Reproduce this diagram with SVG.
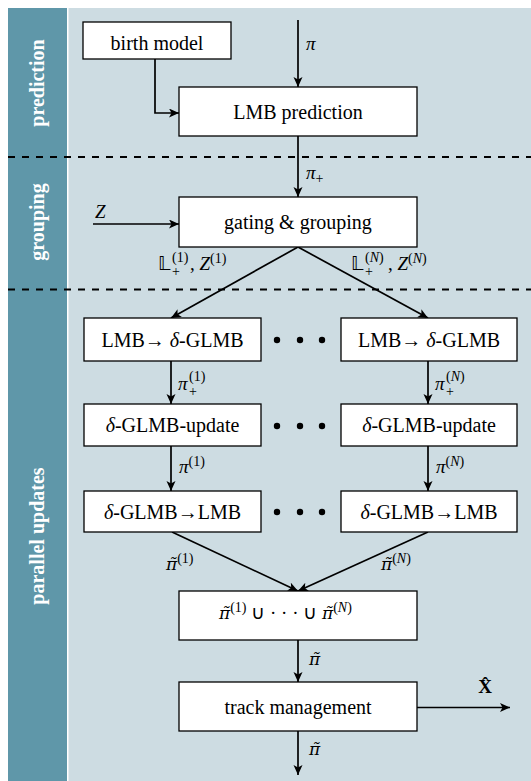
<svg xmlns="http://www.w3.org/2000/svg" width="531" height="781" viewBox="0 0 531 781">
<defs>
<marker id="ar" markerUnits="userSpaceOnUse" markerWidth="12" markerHeight="10" refX="10" refY="4.5" orient="auto">
<path d="M0,0 L10,4.5 L0,9 L2.5,4.5 z" fill="#000"/>
</marker>
</defs>
<rect x="0" y="0" width="531" height="781" fill="#fff"/>
<rect x="8" y="8" width="59" height="773" fill="#5f97a9"/>
<rect x="68.5" y="8" width="462.5" height="773" fill="#cddce2"/>
<g id="section-labels" font-size="20" font-weight="bold" fill="#fff" text-anchor="middle">
<text style="font-family:'Liberation Serif',serif" transform="translate(44,83) rotate(-90)">prediction</text>
<text style="font-family:'Liberation Serif',serif" transform="translate(44,222) rotate(-90)">grouping</text>
<text style="font-family:'Liberation Serif',serif" transform="translate(44,536) rotate(-90)">parallel updates</text>
</g>
<g id="separators" stroke="#000" stroke-width="2" stroke-dasharray="7 7">
<line x1="8" y1="157" x2="531" y2="157"/>
<line x1="8" y1="289.5" x2="531" y2="289.5"/>
</g>
<g id="connectors" fill="none" stroke="#000" stroke-width="1.7">
<line x1="298" y1="20" x2="298" y2="87" marker-end="url(#ar)"/>
<polyline points="155,59 155,113 179,113" marker-end="url(#ar)"/>
<line x1="298" y1="136" x2="298" y2="197" marker-end="url(#ar)"/>
<line x1="93" y1="224" x2="179" y2="224" marker-end="url(#ar)"/>
<line x1="298" y1="247" x2="171" y2="318" marker-end="url(#ar)"/>
<line x1="298" y1="247" x2="428" y2="318" marker-end="url(#ar)"/>
<line x1="171" y1="361" x2="171" y2="404" marker-end="url(#ar)"/>
<line x1="428" y1="361" x2="428" y2="404" marker-end="url(#ar)"/>
<line x1="171" y1="446" x2="171" y2="491" marker-end="url(#ar)"/>
<line x1="428" y1="446" x2="428" y2="491" marker-end="url(#ar)"/>
<line x1="172" y1="532" x2="298" y2="591" marker-end="url(#ar)"/>
<line x1="428" y1="532" x2="298" y2="591" marker-end="url(#ar)"/>
<line x1="298" y1="640" x2="298" y2="682" marker-end="url(#ar)"/>
<line x1="417" y1="707.5" x2="510" y2="707.5" marker-end="url(#ar)"/>
<line x1="298" y1="731" x2="298" y2="775" marker-end="url(#ar)"/>
</g>
<g id="edge-labels" font-size="19" fill="#000">
<text style="font-family:'Liberation Serif',serif" x="306" y="50" font-style="italic">π</text>
<text style="font-family:'Liberation Serif',serif" x="306" y="179"><tspan font-style="italic">π</tspan><tspan font-size="14" dy="4">+</tspan></text>
<text style="font-family:'Liberation Serif',serif" x="95" y="218" font-style="italic">Z</text>
<text style="font-family:'Liberation Serif','DejaVu Sans',serif" x="158" y="270">𝕃<tspan font-size="14" x="172" dy="6">+</tspan><tspan font-size="14" x="172" dy="-14">(1)</tspan><tspan x="190" dy="8">, </tspan><tspan font-style="italic">Z</tspan><tspan font-size="14" dy="-7">(1)</tspan></text>
<text style="font-family:'Liberation Serif','DejaVu Sans',serif" x="351" y="270">𝕃<tspan font-size="14" x="365" dy="6">+</tspan><tspan font-size="14" x="365" dy="-14">(<tspan font-style="italic">N</tspan>)</tspan><tspan x="388" dy="8">, </tspan><tspan font-style="italic">Z</tspan><tspan font-size="14" dy="-7">(<tspan font-style="italic">N</tspan>)</tspan></text>
<text style="font-family:'Liberation Serif',serif" x="178" y="390"><tspan font-style="italic">π</tspan><tspan font-size="14" x="189" dy="6">+</tspan><tspan font-size="14" x="189" dy="-15">(1)</tspan></text>
<text style="font-family:'Liberation Serif',serif" x="435" y="390"><tspan font-style="italic">π</tspan><tspan font-size="14" x="446" dy="6">+</tspan><tspan font-size="14" x="446" dy="-15">(<tspan font-style="italic">N</tspan>)</tspan></text>
<text style="font-family:'Liberation Serif',serif" x="179" y="473"><tspan font-style="italic">π</tspan><tspan font-size="14" dy="-7">(1)</tspan></text>
<text style="font-family:'Liberation Serif',serif" x="436" y="473"><tspan font-style="italic">π</tspan><tspan font-size="14" dy="-7">(<tspan font-style="italic">N</tspan>)</tspan></text>
<text style="font-family:'Liberation Serif',serif" x="166" y="570"><tspan font-style="italic" style="font-family:'DejaVu Serif',serif" font-size="17">π̃</tspan><tspan font-size="14" dy="-7">(1)</tspan></text>
<text style="font-family:'Liberation Serif',serif" x="381" y="570"><tspan font-style="italic" style="font-family:'DejaVu Serif',serif" font-size="17">π̃</tspan><tspan font-size="14" dy="-7">(<tspan font-style="italic">N</tspan>)</tspan></text>
<text style="font-family:'DejaVu Serif',serif" x="309" y="665" font-style="italic" font-size="17">π̃</text>
<text style="font-family:'DejaVu Serif',serif" x="309" y="755" font-style="italic" font-size="17">π̃</text>
<text style="font-family:'Liberation Serif',serif" x="485" y="693" font-weight="bold" text-anchor="middle">X̂</text>
</g>
<g id="nodes" font-size="20" text-anchor="middle" fill="#000">
<g id="birth-model"><rect fill="#fff" stroke="#000" stroke-width="1.3" x="83" y="22" width="148" height="37"/><text style="font-family:'Liberation Serif',serif" x="157" y="50">birth model</text></g>
<g id="lmb-prediction"><rect fill="#fff" stroke="#000" stroke-width="1.3" x="179" y="87" width="238" height="49"/><text style="font-family:'Liberation Serif',serif" x="298" y="119">LMB prediction</text></g>
<g id="gating-grouping"><rect fill="#fff" stroke="#000" stroke-width="1.3" x="179" y="197" width="238" height="50"/><text style="font-family:'Liberation Serif',serif" x="298" y="229">gating &amp; grouping</text></g>
<g id="lmb2glmb-1"><rect fill="#fff" stroke="#000" stroke-width="1.3" x="84" y="318" width="177" height="43"/><text style="font-family:'Liberation Serif',serif" x="172.5" y="347">LMB→ <tspan font-style="italic">δ</tspan>-GLMB</text></g>
<g id="lmb2glmb-n"><rect fill="#fff" stroke="#000" stroke-width="1.3" x="341" y="318" width="176" height="43"/><text style="font-family:'Liberation Serif',serif" x="429" y="347">LMB→ <tspan font-style="italic">δ</tspan>-GLMB</text></g>
<g id="update-1"><rect fill="#fff" stroke="#000" stroke-width="1.3" x="84" y="404" width="177" height="42"/><text style="font-family:'Liberation Serif',serif" x="172.5" y="432"><tspan font-style="italic">δ</tspan>-GLMB-update</text></g>
<g id="update-n"><rect fill="#fff" stroke="#000" stroke-width="1.3" x="341" y="404" width="176" height="42"/><text style="font-family:'Liberation Serif',serif" x="429" y="432"><tspan font-style="italic">δ</tspan>-GLMB-update</text></g>
<g id="glmb2lmb-1"><rect fill="#fff" stroke="#000" stroke-width="1.3" x="84" y="491" width="177" height="41"/><text style="font-family:'Liberation Serif',serif" x="172.5" y="519"><tspan font-style="italic">δ</tspan>-GLMB→LMB</text></g>
<g id="glmb2lmb-n"><rect fill="#fff" stroke="#000" stroke-width="1.3" x="341" y="491" width="176" height="41"/><text style="font-family:'Liberation Serif',serif" x="429" y="519"><tspan font-style="italic">δ</tspan>-GLMB→LMB</text></g>
<g id="dots" fill="#000">
<circle cx="277" cy="340" r="3.2"/><circle cx="300" cy="340" r="3.2"/><circle cx="322" cy="340" r="3.2"/>
<circle cx="277" cy="426" r="3.2"/><circle cx="300" cy="426" r="3.2"/><circle cx="322" cy="426" r="3.2"/>
<circle cx="277" cy="512" r="3.2"/><circle cx="300" cy="512" r="3.2"/><circle cx="322" cy="512" r="3.2"/>
</g>
<g id="union"><rect fill="#fff" stroke="#000" stroke-width="1.3" x="179" y="591" width="238" height="49"/><text style="font-family:'Liberation Serif',serif" x="219" y="619" font-size="19" text-anchor="start"><tspan font-style="italic" style="font-family:'DejaVu Serif',serif" font-size="17">π̃</tspan><tspan font-size="14" dy="-7">(1)</tspan><tspan dy="7"> ∪ · · · ∪ </tspan><tspan font-style="italic" style="font-family:'DejaVu Serif',serif" font-size="17">π̃</tspan><tspan font-size="14" dy="-7">(<tspan font-style="italic">N</tspan>)</tspan></text></g>
<g id="track-management"><rect fill="#fff" stroke="#000" stroke-width="1.3" x="179" y="682" width="238" height="49"/><text style="font-family:'Liberation Serif',serif" x="298" y="714">track management</text></g>
</g>
</svg>
